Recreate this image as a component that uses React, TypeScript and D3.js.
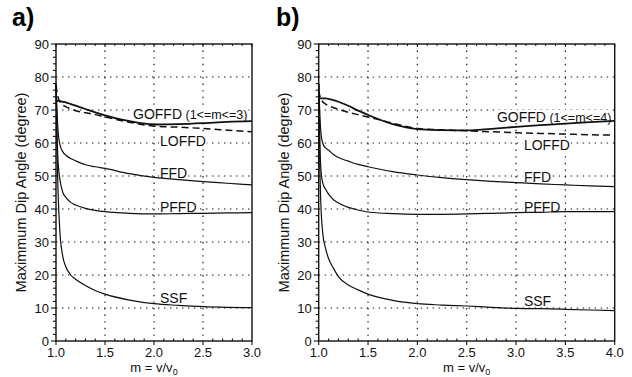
import React, { useEffect, useRef } from "react";
import * as d3 from "d3";

// m = v/v0 sample points
const mA = [1.0, 1.01, 1.02, 1.04, 1.07, 1.1, 1.15, 1.2, 1.3, 1.4, 1.5, 1.75, 2.0, 2.25, 2.5, 2.75, 3.0];
const mB = [1.0, 1.01, 1.02, 1.04, 1.07, 1.1, 1.15, 1.2, 1.3, 1.4, 1.5, 1.75, 2.0, 2.25, 2.5, 2.75, 3.0, 3.25, 3.5, 3.75, 4.0];

// panel a (1 <= m <= 3)
const goffdA = [73, 72.8, 72.8, 72.7, 72.5, 72.3, 71.8, 71.3, 70.3, 69.3, 68.4, 66.6, 65.6, 65.7, 66.0, 66.4, 66.6];
const loffdA = [77.5, 75.5, 74, 72.5, 71.5, 71, 70.3, 69.8, 69.2, 68.6, 67.9, 66.3, 65.1, 64.8, 64.4, 63.9, 63.4];
const ffdA = [78, 70, 64, 59.5, 57.3, 56.3, 55.3, 54.6, 53.4, 52.8, 52.3, 50.7, 49.6, 48.9, 48.3, 47.8, 47.3];
const pffdA = [78, 64, 55, 49, 45, 43.5, 42, 41.2, 40.2, 39.6, 39.2, 38.7, 38.5, 38.6, 38.7, 38.8, 38.9];
const ssfA = [78, 58, 46, 33, 25.5, 22.5, 20, 18.7, 16.8, 15.3, 14.2, 12.4, 11.3, 10.8, 10.4, 10.2, 10.1];

// panel b (1 <= m <= 4)
const goffdB = [73.5, 73.5, 73.5, 73.5, 73.5, 73.4, 73.0, 72.5, 71.3, 69.8, 68.5, 65.7, 64.2, 63.9, 63.8, 64.3, 64.9, 65.4, 65.9, 66.3, 66.7];
const loffdB = [76, 74.5, 73.5, 72.5, 71.8, 71.3, 70.7, 70.2, 69.3, 68.6, 67.9, 66.0, 64.4, 64.0, 63.7, 63.4, 63.1, 62.9, 62.7, 62.5, 62.4];
const ffdB = [78, 70, 64, 60, 58.5, 57.8, 56.5, 55.6, 54.5, 53.5, 52.8, 51.3, 50.3, 49.5, 48.9, 48.4, 48.0, 47.6, 47.3, 47.0, 46.8];
const pffdB = [78, 63, 53, 48, 46, 44.5, 42.8, 41.8, 40.5, 39.7, 39.1, 38.6, 38.4, 38.4, 38.5, 38.7, 38.9, 39.0, 39.2, 39.2, 39.2];
const ssfB = [78, 55, 43, 33, 28, 25, 22, 19.5, 17, 15.5, 14.2, 12.3, 11.3, 10.9, 10.6, 10.2, 9.9, 9.8, 9.6, 9.4, 9.2];

const seriesNames = ["GOFFD", "LOFFD", "FFD", "PFFD", "SSF"];
// label anchor in data coordinates [m, degree]
const labelPosA = [[1.786, 67.3], [2.061, 59.1], [2.061, 49.4], [2.061, 39.1], [2.061, 11.5]];
const labelPosB = [[2.807, 66.4], [3.08, 57.9], [3.08, 48.2], [3.08, 39.1], [3.08, 10.6]];

const yTicks = [0, 10, 20, 30, 40, 50, 60, 70, 80, 90];
const xTicksA = [1.0, 1.5, 2.0, 2.5, 3.0];
const xTicksB = [1.0, 1.5, 2.0, 2.5, 3.0, 3.5, 4.0];

const FONT = "'Liberation Sans', Arial, Helvetica, sans-serif";

const App = () => {
  const svgRef = useRef(null);

  useEffect(() => {
    const svg = d3.select(svgRef.current);
    svg.selectAll("*").remove();

    const panels = [
      { tag: "a)", tagX: 12, left: 56, right: 252, m: mA, xMax: 3, xTicks: xTicksA, range: "(1<=m<=3)",
        data: [goffdA, loffdA, ffdA, pffdA, ssfA], labels: labelPosA, yLabelX: 26 },
      { tag: "b)", tagX: 276, left: 318.7, right: 614.7, m: mB, xMax: 4, xTicks: xTicksB, range: "(1<=m<=4)",
        data: [goffdB, loffdB, ffdB, pffdB, ssfB], labels: labelPosB, yLabelX: 289 },
    ];

    const top = 44;
    const bottom = 341;

    panels.forEach((p) => {
      const x = d3.scaleLinear().domain([1, p.xMax]).range([p.left, p.right]);
      const y = d3.scaleLinear().domain([0, 90]).range([bottom, top]);
      const g = svg.append("g");

      // dotted grid
      yTicks.filter((v) => v > 0 && v < 90).forEach((v) => {
        g.append("line")
          .attr("x1", p.left).attr("x2", p.right)
          .attr("y1", y(v)).attr("y2", y(v))
          .attr("stroke", "#111").attr("stroke-width", 1.2)
          .attr("stroke-dasharray", "1.4,4.6");
      });
      p.xTicks.filter((v) => v > 1 && v < p.xMax).forEach((v) => {
        g.append("line")
          .attr("x1", x(v)).attr("x2", x(v))
          .attr("y1", top).attr("y2", bottom)
          .attr("stroke", "#111").attr("stroke-width", 1.2)
          .attr("stroke-dasharray", "1.4,5.2");
      });

      // white boxes behind the curve names
      const labelG = g.append("g");
      const curveG = g.append("g");
      const textG = g.append("g");

      const line = d3.line()
        .x((d, i) => x(p.m[i]))
        .y((d) => y(d))
        .curve(d3.curveMonotoneX);

      p.data.forEach((vals, k) => {
        curveG.append("path")
          .attr("d", line(vals))
          .attr("fill", "none")
          .attr("stroke", "#111")
          .attr("stroke-width", k === 0 ? 1.8 : k === 1 ? 1.5 : 1.2)
          .attr("stroke-dasharray", k === 1 ? "7,4" : null);
      });

      p.labels.forEach(([lm, lv], k) => {
        const t = textG.append("text")
          .attr("x", x(lm)).attr("y", y(lv))
          .attr("font-family", FONT).attr("font-size", 14)
          .attr("fill", "#111")
          .text(seriesNames[k]);
        if (k === 0) {
          t.append("tspan").attr("font-size", 12.5).text(" " + p.range);
        }
        const bb = t.node().getBBox();
        labelG.append("rect")
          .attr("x", bb.x - 1).attr("y", bb.y + 1)
          .attr("width", bb.width + 2).attr("height", bb.height - 3)
          .attr("fill", "#fff");
      });

      // frame
      g.append("rect")
        .attr("x", p.left).attr("y", top)
        .attr("width", p.right - p.left).attr("height", bottom - top)
        .attr("fill", "none").attr("stroke", "#111").attr("stroke-width", 1.4);

      // left ticks
      d3.range(0, 91, 2).forEach((v) => {
        const major = v % 10 === 0;
        g.append("line")
          .attr("x1", p.left - (major ? 5 : 3)).attr("x2", p.left)
          .attr("y1", y(v)).attr("y2", y(v))
          .attr("stroke", "#111").attr("stroke-width", 1.1);
      });
      yTicks.forEach((v) => {
        g.append("text")
          .attr("x", p.left - 7).attr("y", y(v) + 4.5)
          .attr("text-anchor", "end")
          .attr("font-family", FONT).attr("font-size", 13)
          .attr("fill", "#111")
          .text(v);
      });

      // bottom / top ticks
      d3.range(10, p.xMax * 10 + 1, 1).forEach((i) => {
        const v = i / 10;
        const major = i % 5 === 0;
        g.append("line")
          .attr("x1", x(v)).attr("x2", x(v))
          .attr("y1", major ? bottom + 4 : bottom).attr("y2", bottom - (major ? 0 : 2.5))
          .attr("stroke", "#111").attr("stroke-width", 1.1);
        g.append("line")
          .attr("x1", x(v)).attr("x2", x(v))
          .attr("y1", top).attr("y2", top + (major ? 3 : 2))
          .attr("stroke", "#111").attr("stroke-width", 1);
      });
      p.xTicks.forEach((v) => {
        g.append("text")
          .attr("x", x(v)).attr("y", bottom + 16)
          .attr("text-anchor", "middle")
          .attr("font-family", FONT).attr("font-size", 13)
          .attr("fill", "#111")
          .text(v.toFixed(1));
      });

      // axis titles
      const xt = g.append("text")
        .attr("x", (p.left + p.right) / 2).attr("y", 372)
        .attr("text-anchor", "middle")
        .attr("font-family", FONT).attr("font-size", 13)
        .attr("fill", "#111")
        .text("m = v/v");
      xt.append("tspan").attr("font-size", 9).attr("dy", 3).text("0");

      g.append("text")
        .attr("transform", `translate(${p.yLabelX},${(top + bottom) / 2}) rotate(-90)`)
        .attr("text-anchor", "middle")
        .attr("font-family", FONT).attr("font-size", 14.5)
        .attr("fill", "#111")
        .text("Maximmum Dip Angle (degree)");

      // panel tag
      g.append("text")
        .attr("x", p.tagX).attr("y", 26)
        .attr("font-family", FONT).attr("font-size", 25).attr("font-weight", "bold")
        .attr("fill", "#000")
        .text(p.tag);
    });
  }, []);

  return (
    <svg
      ref={svgRef}
      width={632}
      height={377}
      style={{ position: "absolute", left: 0, top: 0, background: "#fff" }}
    ></svg>
  );
};

export default App;
